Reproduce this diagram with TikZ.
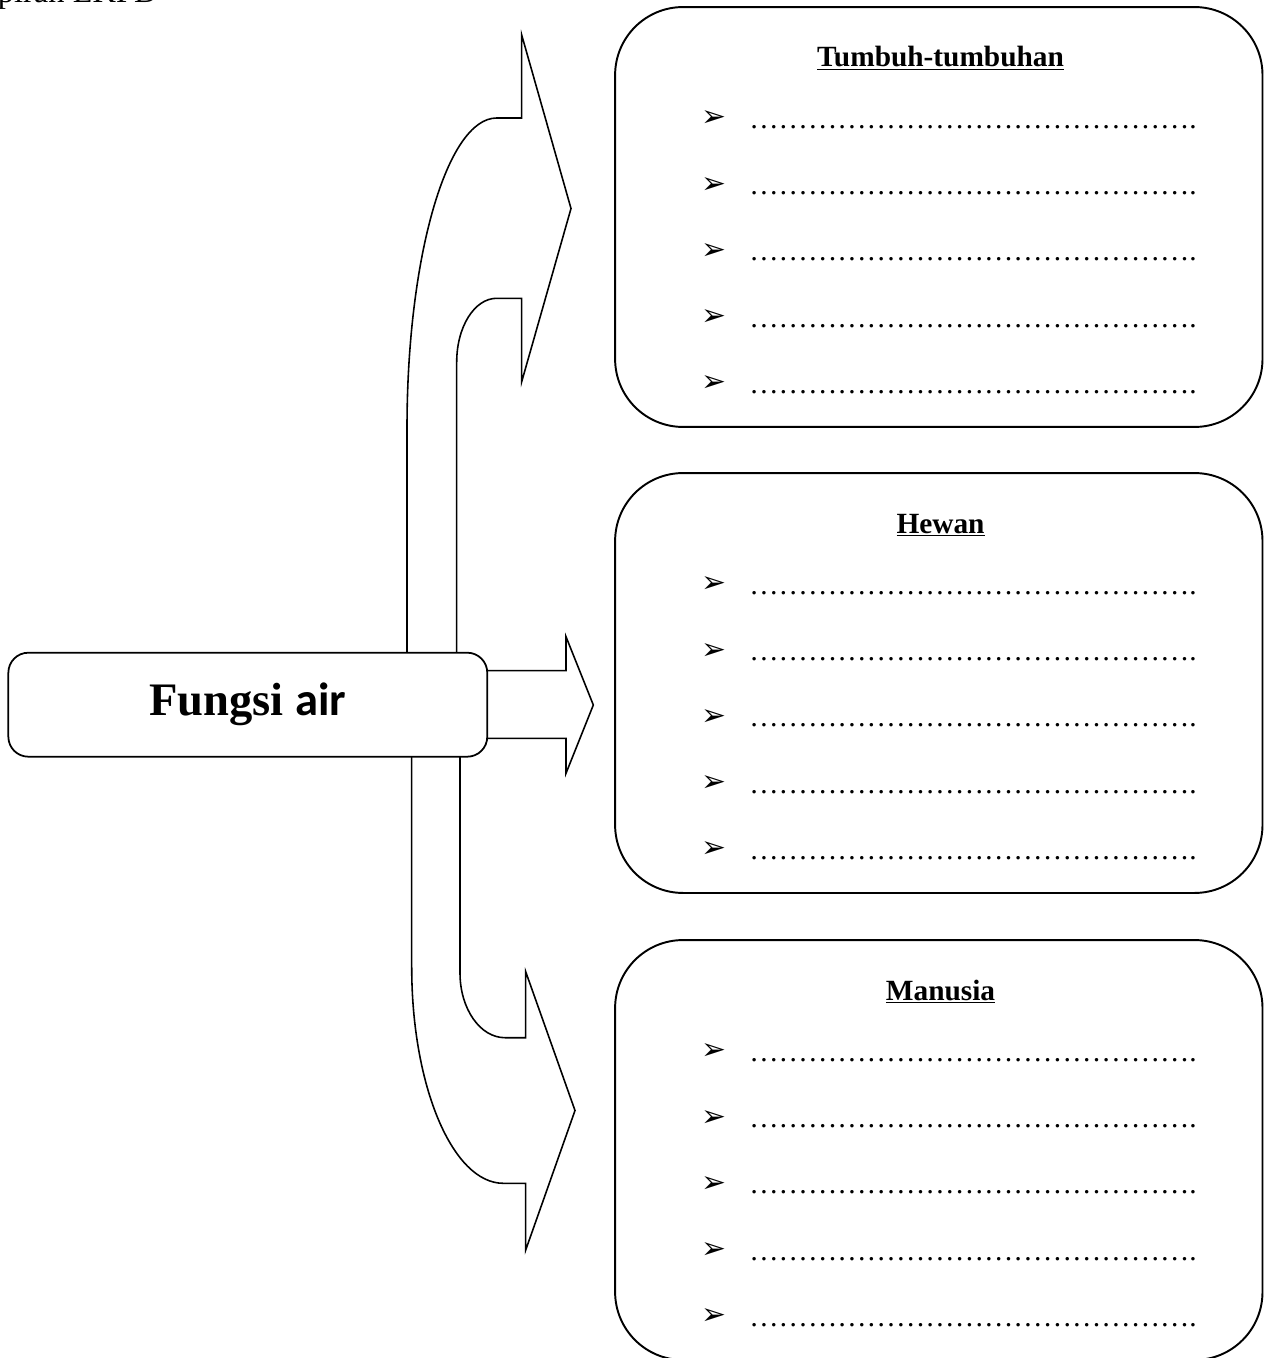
\documentclass[tikz,border=0pt]{standalone}
\usepackage{fontspec}
\setmainfont{Liberation Serif}
\newfontfamily\dingfont{DejaVu Sans}
\newfontfamily\calibrifont{Carlito}
\usepackage{tikz}
\usetikzlibrary{calc}
\tikzset{
    panel/.style={draw, line width=1.1pt, rounded corners=1.36cm,
        minimum width=12.95cm, minimum height=8.4cm},
    mainbox/.style={draw, fill=white, line width=1pt, rounded corners=0.4cm,
        minimum width=9.58cm, minimum height=2.08cm},
    blockarrow/.style={draw, fill=white, line width=0.9pt, line join=miter},
    heading/.style={inner sep=0pt, anchor=base, font=\fontsize{16.7}{20}\selectfont\bfseries},
    bulletmark/.style={inner sep=0pt, font=\dingfont\fontsize{17}{18}\selectfont},
    dotline/.style={inner sep=0pt, anchor=base west, font=\fontsize{16.7}{20}\selectfont}
}
\newcommand{\fivedots}{……………}
\newcommand{\blankline}{\fivedots\fivedots\fivedots.}

\begin{document}
\begin{tikzpicture}[x=0.02cm, y=-0.02cm]
        \useasboundingbox (0,0) rectangle (1274,1358);
        \draw (158,3) node(lampiran)[inner sep=0pt, anchor=base east,
            font=\fontsize{18.5}{20}\selectfont]{Lampiran LKPD};

        % block arrows, drawn under the main box
        \draw[blockarrow] (407,700) -- (407,428) .. controls (407,257) and (447,118) .. (496.7,118)
            -- (521.7,118) -- (521.7,35) -- (571,208.5) -- (521.7,381.7) -- (521.7,298.3)
            -- (496.7,298.3) .. controls (474.6,298.3) and (456.7,326.7) .. (456.7,362)
            -- (456.7,700) -- cycle;
        \draw[blockarrow] (470,670.7) -- (566,670.7) -- (566,636.7) -- (593.3,705)
            -- (566,773.3) -- (566,738.3) -- (470,738.3) -- cycle;
        \draw[blockarrow] (411.7,700) -- (411.7,967) .. controls (411.7,1086.3) and (452.7,1183.3) .. (503.3,1183.3)
            -- (525.7,1183.3) -- (525.7,1250) -- (575,1110.5) -- (525.7,971.7) -- (525.7,1037.7)
            -- (505,1037.7) .. controls (480.1,1037.7) and (460,1008.7) .. (460,973)
            -- (460,700) -- cycle;

        \draw (247.8,704.7) node(fungsi)[mainbox]{\fontsize{26.5}{30}\selectfont\bfseries Fungsi {\calibrifont air}};

        \foreach \boxname/\headtext/\ytop in {tumbuhan/Tumbuh-tumbuhan/7, hewan/Hewan/473, manusia/Manusia/940} {
            \draw (938.8,\ytop+210) node(\boxname)[panel]{};
            \draw (940.5,\ytop+60) node(\boxname h)[heading]{\underline{\headtext}};
            \foreach \i in {0,...,4} {
                \draw (714,\ytop+111.8+66.3*\i) node(\boxname b\i)[bulletmark]{➢};
                \draw (749,\ytop+121.3+66.3*\i) node(\boxname d\i)[dotline]{\blankline};
            }
        }
    \end{tikzpicture}
\end{document}
